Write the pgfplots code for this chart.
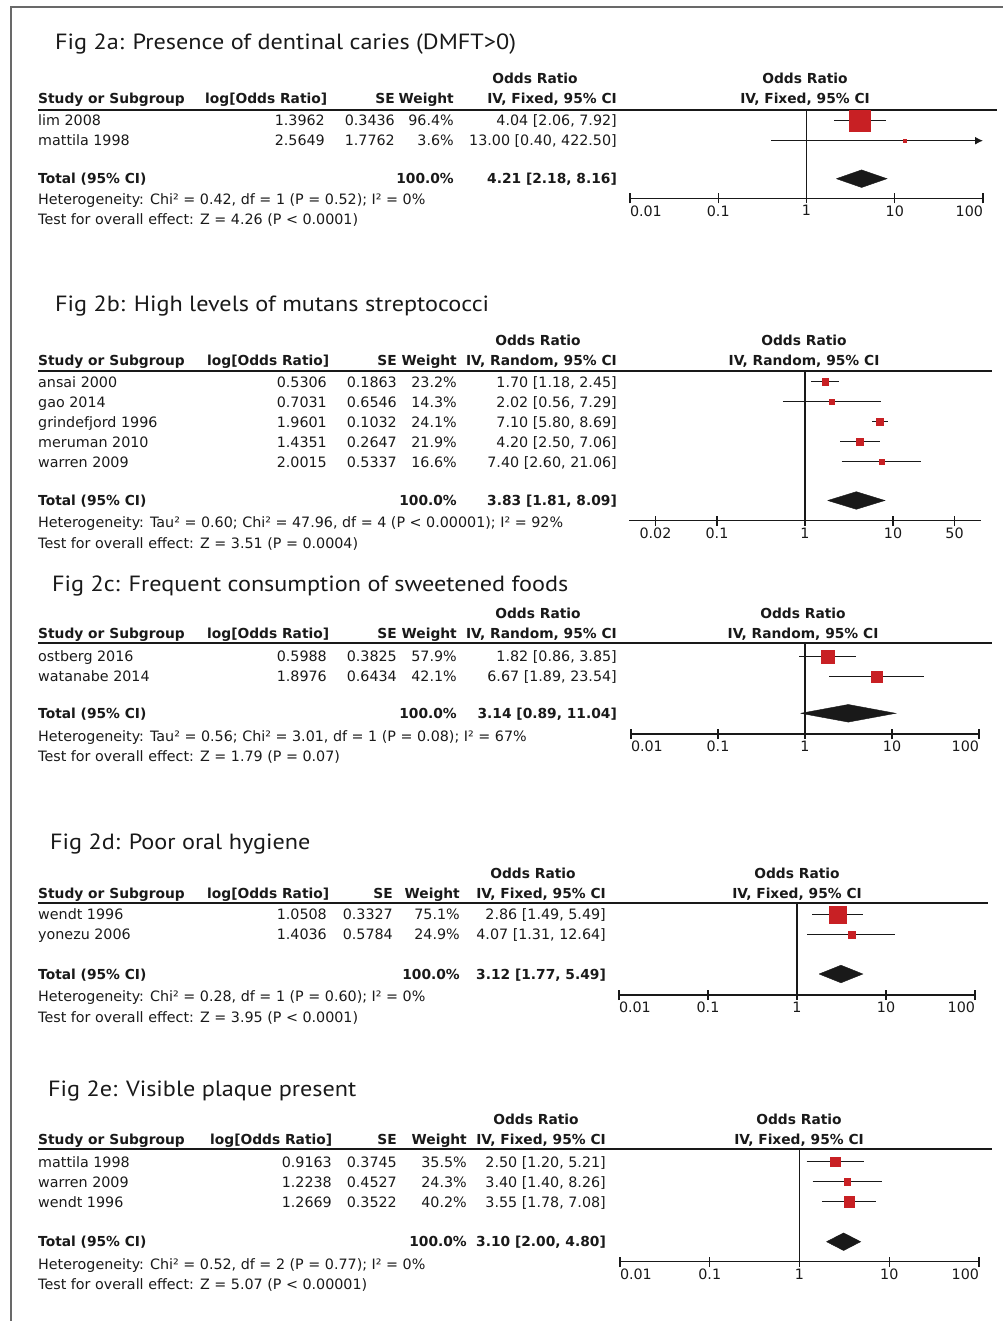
\documentclass[border=0pt]{standalone}
\usepackage{fontspec}
\setmainfont{DejaVu Sans}
\newfontfamily\titlefont[FakeStretch=1.1]{PT Sans}
\usepackage{pgfplots}
\usepackage{pgfplotstable}
\usetikzlibrary{arrows.meta}
\pgfplotsset{compat=1.18}

\definecolor{revred}{RGB}{200,32,36}
\definecolor{ink}{RGB}{25,25,25}
\definecolor{framegray}{RGB}{105,105,105}

\newcommand\tf{\fontsize{14.3}{16}\selectfont}
\newcommand\bt{\fontsize{13.8}{16}\selectfont\bfseries}
\newcommand\ttl{\titlefont\fontsize{22}{26}\selectfont}

% study tables: pos (vertical position, row 1 = -1), odds ratio, CI, weight (%)
\pgfplotstableread{
pos or lo hi w
-1 4.04 2.06 7.92 96.4
-2 13.00 0.40 422.50 3.6
}\tabA
\pgfplotstableread{
pos or lo hi w
-1 1.70 1.18 2.45 23.2
-2 2.02 0.56 7.29 14.3
-3 7.10 5.80 8.69 24.1
-4 4.20 2.50 7.06 21.9
-5 7.40 2.60 21.06 16.6
}\tabB
\pgfplotstableread{
pos or lo hi w
-1 1.82 0.86 3.85 57.9
-2 6.67 1.89 23.54 42.1
}\tabC
\pgfplotstableread{
pos or lo hi w
-1 2.86 1.49 5.49 75.1
-2 4.07 1.31 12.64 24.9
}\tabD
\pgfplotstableread{
pos or lo hi w
-1 2.50 1.20 5.21 35.5
-2 3.40 1.40 8.26 24.3
-3 3.55 1.78 7.08 40.2
}\tabE

\pgfplotsset{
  fpax/.style={
    scale only axis,
    enlargelimits=false,
    axis y line=none, axis x line*=bottom, ytick=\empty,
    x axis line style={-, line width=1.4pt, ink},
    xminorticks=false,
    major tick length=10pt, tick align=center,
    tick style={line width=1.3pt, ink},
    xticklabel style={font=\tf, text=ink, inner sep=2pt},
    clip=false,
  },
  ci/.style={line width=1.3pt, ink},
  sq/.style={scatter, only marks, mark=square*,
    scatter/use mapped color={draw=revred, fill=revred},
    visualization depends on={0.1*\thisrow{w}+1 \as \msz},
    scatter/@pre marker code/.append style={/tikz/mark size=\msz}},
  dia/.style={fill=ink, draw=ink, line width=0.4pt},
}
\newcommand\fl[1]{\makebox[0pt][l]{#1}}
\newcommand\fr[1]{\makebox[0pt][r]{#1}}

\newcommand\Lt[3]{\node[anchor=base west] at (#1,#2) {#3};}
\newcommand\Rt[3]{\node[anchor=base east] at (#1,#2) {#3};}
\newcommand\Ct[3]{\node[anchor=base] at (#1,#2) {#3};}
\newcommand\hdr[5]{%
  \Ct{#3}{#1}{\bt Odds Ratio}
  \Ct{#4}{#1}{\bt Odds Ratio}
  \Lt{38}{#2}{\bt Study or Subgroup}
  \Lt{\cLh}{#2}{\bt log[Odds Ratio]}
  \Rt{\cS}{#2}{\bt SE}
  \Rt{\cW}{#2}{\bt Weight}
  \Rt{\cC}{#2}{\bt IV, #5, 95\% CI}
  \Ct{#4}{#2}{\bt IV, #5, 95\% CI}}
\newcommand\srow[6]{%
  \Lt{38}{#1}{#2}
  \Rt{\cL}{#1}{#3}
  \Rt{\cS}{#1}{#4}
  \Rt{\cW}{#1}{#5\%}
  \Rt{\cC}{#1}{#6}}
\newcommand\trow[2]{%
  \Lt{38}{#1}{\bt Total (95\% CI)}
  \Rt{\cW}{#1}{\bt 100.0\%}
  \Rt{\cC}{#1}{\bt #2}}

\begin{document}
\begin{tikzpicture}[font=\tf, text=ink]
\path[use as bounding box] (0,0) rectangle (1003pt,-1321pt);
\draw[framegray, line width=2pt] (11pt,-1321pt) -- (11pt,-7pt) -- (1003pt,-7pt);

\begin{scope}[x=1pt, y=-1pt, every node/.style={inner sep=0pt}]
% ---------- Panel a
\def\cL{325}\def\cLh{205}\def\cS{395}\def\cW{454}\def\cC{617}
\node[anchor=base west, font=\ttl] at (55,50) {Fig 2a: Presence of dentinal caries (DMFT>0)};
\hdr{84}{104}{535}{805}{Fixed}
\draw[ink, line width=1.8pt] (38,110) -- (997,110);
\srow{126}{lim 2008}{1.3962}{0.3436}{96.4}{4.04 [2.06, 7.92]}
\srow{146}{mattila 1998}{2.5649}{1.7762}{3.6}{13.00 [0.40, 422.50]}
\trow{183.5}{4.21 [2.18, 8.16]}
\Lt{38}{205}{Heterogeneity: Chi² = 0.42, df = 1 (P = 0.52); I² = 0\%}
\Lt{38}{225}{Test for overall effect: Z = 4.26 (P < 0.0001)}

% ---------- Panel b
\def\cL{327}\def\cLh{207}\def\cS{397}\def\cW{457}\def\cC{617}
\node[anchor=base west, font=\ttl] at (55,311) {Fig 2b: High levels of mutans streptococci};
\hdr{345}{365}{538}{804}{Random}
\draw[ink, line width=1.8pt] (38,370.7) -- (992,370.7);
\srow{387}{ansai 2000}{0.5306}{0.1863}{23.2}{1.70 [1.18, 2.45]}
\srow{407}{gao 2014}{0.7031}{0.6546}{14.3}{2.02 [0.56, 7.29]}
\srow{427}{grindefjord 1996}{1.9601}{0.1032}{24.1}{7.10 [5.80, 8.69]}
\srow{447}{meruman 2010}{1.4351}{0.2647}{21.9}{4.20 [2.50, 7.06]}
\srow{467}{warren 2009}{2.0015}{0.5337}{16.6}{7.40 [2.60, 21.06]}
\trow{505}{3.83 [1.81, 8.09]}
\Lt{38}{527}{Heterogeneity: Tau² = 0.60; Chi² = 47.96, df = 4 (P < 0.00001); I² = 92\%}
\Lt{38}{548}{Test for overall effect: Z = 3.51 (P = 0.0004)}

% ---------- Panel c
\node[anchor=base west, font=\ttl] at (52,591) {Fig 2c: Frequent consumption of sweetened foods};
\hdr{618}{638}{538}{803}{Random}
\draw[ink, line width=1.8pt] (38,643.3) -- (992,643.3);
\srow{661.5}{ostberg 2016}{0.5988}{0.3825}{57.9}{1.82 [0.86, 3.85]}
\srow{681.5}{watanabe 2014}{1.8976}{0.6434}{42.1}{6.67 [1.89, 23.54]}
\trow{718.5}{3.14 [0.89, 11.04]}
\Lt{38}{741}{Heterogeneity: Tau² = 0.56; Chi² = 3.01, df = 1 (P = 0.08); I² = 67\%}
\Lt{38}{761}{Test for overall effect: Z = 1.79 (P = 0.07)}

% ---------- Panel d
\def\cL{327}\def\cLh{207}\def\cS{393}\def\cW{460}\def\cC{606}
\node[anchor=base west, font=\ttl] at (50,849) {Fig 2d: Poor oral hygiene};
\hdr{878}{898}{533}{797}{Fixed}
\draw[ink, line width=1.8pt] (38,903.3) -- (988,903.3);
\srow{919.5}{wendt 1996}{1.0508}{0.3327}{75.1}{2.86 [1.49, 5.49]}
\srow{939.5}{yonezu 2006}{1.4036}{0.5784}{24.9}{4.07 [1.31, 12.64]}
\trow{979}{3.12 [1.77, 5.49]}
\Lt{38}{1001}{Heterogeneity: Chi² = 0.28, df = 1 (P = 0.60); I² = 0\%}
\Lt{38}{1022}{Test for overall effect: Z = 3.95 (P < 0.0001)}

% ---------- Panel e
\def\cL{332}\def\cLh{210}\def\cS{397}\def\cW{467}\def\cC{606}
\node[anchor=base west, font=\ttl] at (48,1096) {Fig 2e: Visible plaque present};
\hdr{1124}{1144}{536}{799}{Fixed}
\draw[ink, line width=1.8pt] (38,1149.3) -- (992,1149.3);
\srow{1167}{mattila 1998}{0.9163}{0.3745}{35.5}{2.50 [1.20, 5.21]}
\srow{1187}{warren 2009}{1.2238}{0.4527}{24.3}{3.40 [1.40, 8.26]}
\srow{1207}{wendt 1996}{1.2669}{0.3522}{40.2}{3.55 [1.78, 7.08]}
\trow{1246.5}{3.10 [2.00, 4.80]}
\Lt{38}{1269}{Heterogeneity: Chi² = 0.52, df = 2 (P = 0.77); I² = 0\%}
\Lt{38}{1289}{Test for overall effect: Z = 5.07 (P < 0.00001)}
\end{scope}

% ===== forest plots
\begin{axis}[fpax, xmode=log, xmin=0.01, xmax=100,
  xtick={0.01,0.1,1,10,100}, xticklabels={\fl{0.01},0.1,1,10,\fr{100}},
  at={(630pt,-198.3pt)}, anchor=south west,
  width=353pt, height=88.3pt, ymin=-4.88, ymax=-0.465]
\addplot[ci] coordinates {(1,-0.465) (1,-4.88)};
\addplot[ci] coordinates {(2.06,-1) (7.92,-1)};
\addplot[ci, -{Latex[length=8pt,width=8pt]}] coordinates {(0.40,-2) (100,-2)};
\addplot[sq] table[x=or, y=pos] {\tabA};
\addplot[dia] coordinates {(2.18,-3.9) (4.21,-3.46) (8.16,-3.9) (4.21,-4.34) (2.18,-3.9)};
\end{axis}

\begin{axis}[fpax, xmode=log, xmin=0.01, xmax=100,
  xtick={0.02,0.1,1,10,50}, xticklabels={0.02,0.1,1,10,50},
  at={(629pt,-520.7pt)}, anchor=south west,
  width=352pt, height=150pt, ymin=-7.95, ymax=-0.45]
\addplot[ci] coordinates {(1,-0.45) (1,-7.95)};
\addplot[ci] coordinates {(1.18,-1) (2.45,-1)};
\addplot[ci] coordinates {(0.56,-2) (7.29,-2)};
\addplot[ci] coordinates {(5.80,-3) (8.69,-3)};
\addplot[ci] coordinates {(2.50,-4) (7.06,-4)};
\addplot[ci] coordinates {(2.60,-5) (21.06,-5)};
\addplot[sq] table[x=or, y=pos] {\tabB};
\addplot[dia] coordinates {(1.81,-6.94) (3.83,-6.50) (8.09,-6.94) (3.83,-7.38) (1.81,-6.94)};
\end{axis}

\begin{axis}[fpax, xmode=log, xmin=0.01, xmax=100,
  xtick={0.01,0.1,1,10,100}, xticklabels={\fl{0.01},0.1,1,10,\fr{100}},
  at={(631pt,-734pt)}, anchor=south west,
  width=348pt, height=90.7pt, ymin=-4.875, ymax=-0.34]
\addplot[ci] coordinates {(1,-0.34) (1,-4.875)};
\addplot[ci] coordinates {(0.86,-1) (3.85,-1)};
\addplot[ci] coordinates {(1.89,-2) (23.54,-2)};
\addplot[sq] table[x=or, y=pos] {\tabC};
\addplot[dia] coordinates {(0.89,-3.84) (3.14,-3.40) (11.04,-3.84) (3.14,-4.28) (0.89,-3.84)};
\end{axis}

\begin{axis}[fpax, xmode=log, xmin=0.01, xmax=100,
  xtick={0.01,0.1,1,10,100}, xticklabels={\fl{0.01},0.1,1,10,\fr{100}},
  at={(619pt,-995pt)}, anchor=south west,
  width=356pt, height=91.7pt, ymin=-5.025, ymax=-0.44]
\addplot[ci] coordinates {(1,-0.44) (1,-5.025)};
\addplot[ci] coordinates {(1.49,-1) (5.49,-1)};
\addplot[ci] coordinates {(1.31,-2) (12.64,-2)};
\addplot[sq] table[x=or, y=pos] {\tabD};
\addplot[dia] coordinates {(1.77,-3.975) (3.12,-3.535) (5.49,-3.975) (3.12,-4.415) (1.77,-3.975)};
\end{axis}

\begin{axis}[fpax, xmode=log, xmin=0.01, xmax=100,
  xtick={0.01,0.1,1,10,100}, xticklabels={\fl{0.01},0.1,1,10,\fr{100}},
  at={(620pt,-1261.7pt)}, anchor=south west,
  width=359pt, height=112.4pt, ymin=-6.0, ymax=-0.38]
\addplot[ci] coordinates {(1,-0.38) (1,-6.0)};
\addplot[ci] coordinates {(1.20,-1) (5.21,-1)};
\addplot[ci] coordinates {(1.40,-2) (8.26,-2)};
\addplot[ci] coordinates {(1.78,-3) (7.08,-3)};
\addplot[sq] table[x=or, y=pos] {\tabE};
\addplot[dia] coordinates {(2.00,-5.0) (3.10,-4.56) (4.80,-5.0) (3.10,-5.44) (2.00,-5.0)};
\end{axis}
\end{tikzpicture}
\end{document}
